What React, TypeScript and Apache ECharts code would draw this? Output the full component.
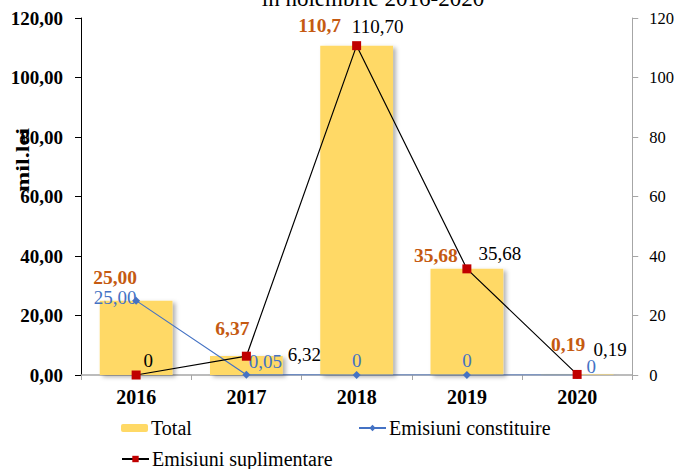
import React, { useEffect, useRef } from "react";
import * as echarts from "echarts";

const years = ["2016", "2017", "2018", "2019", "2020"];
const totalValues = [25.0, 6.37, 110.7, 35.68, 0.19];
const totalLabels = ["25,00", "6,37", "110,7", "35,68", "0,19"];
const constituireValues = [25.0, 0.05, 0, 0, 0];
const constituireLabels = ["25,00", "0,05", "0", "0", "0"];
const suplimentareValues = [0, 6.32, 110.7, 35.68, 0.19];
const suplimentareLabels = ["0", "6,32", "110,70", "35,68", "0,19"];

const FONT = "Liberation Serif, DejaVu Serif, serif";

export default function App() {
  const ref = useRef<HTMLDivElement>(null);
  useEffect(() => {
    document.body.style.margin = "0";
    const chart = echarts.init(ref.current!, null, { renderer: "svg" });
    const totalOffsets = [[-21, -8], [-14, -13], [-37, -5], [-31, 2], [-9, -15]];
    const constOffsets = [[-21, 15], [19, 5], [0, 4], [0, 4], [14, 10]];
    const supOffsets = [[12, 4], [58, 17], [21, 0], [33, 4], [33, -6]];
    const legendText = { fontFamily: FONT, fontSize: 20, color: "#000", padding: [0, 0, 0, -2] };
    chart.setOption({
      animation: false,
      textStyle: { fontFamily: FONT },
      grid: { left: 81, right: 43, top: 18, bottom: 94, containLabel: false },
      graphic: [
        {
          type: "text",
          style: {
            text: "în noiembrie 2016-2020",
            x: 373,
            y: -13,
            textAlign: "center",
            textVerticalAlign: "top",
            fontFamily: FONT,
            fontSize: 23,
            fill: "#000",
          },
        },
        {
          type: "text",
          x: 23,
          y: 160,
          rotation: Math.PI / 2,
          scaleX: 1.35,
          style: {
            text: "mil.lei",
            textAlign: "center",
            textVerticalAlign: "middle",
            fontFamily: FONT,
            fontWeight: "bold",
            fontSize: 18,
            fill: "#000",
          },
        },
      ],
      legend: [
        {
          data: ["Total"],
          left: 121,
          top: 418,
          padding: 0,
          itemWidth: 27,
          itemHeight: 8,
          textStyle: legendText,
        },
        {
          data: ["Emisiuni constituire"],
          left: 358,
          top: 418,
          padding: 0,
          itemWidth: 27,
          itemHeight: 8,
          textStyle: legendText,
        },
        {
          data: ["Emisiuni suplimentare"],
          left: 121,
          top: 449,
          padding: 0,
          itemWidth: 27,
          itemHeight: 8,
          textStyle: legendText,
        },
      ],
      xAxis: {
        type: "category",
        data: years,
        axisLine: { lineStyle: { color: "#a6a6a6", width: 1.5 } },
        axisTick: { show: true, alignWithLabel: false, length: 5, lineStyle: { color: "#a6a6a6" } },
        axisLabel: {
          fontFamily: FONT,
          fontWeight: "bold",
          fontSize: 20,
          color: "#000",
          margin: 12,
        },
      },
      yAxis: [
        {
          type: "value",
          min: 0,
          max: 120,
          interval: 20,
          axisLine: { show: true, lineStyle: { color: "#000" } },
          axisTick: { show: true, length: 6, lineStyle: { color: "#000" } },
          splitLine: { show: false },
          axisLabel: {
            fontFamily: FONT,
            fontWeight: "bold",
            fontSize: 19,
            color: "#000",
            margin: 18,
            formatter: (v: number) => v.toFixed(2).replace(".", ","),
          },
        },
        {
          type: "value",
          min: 0,
          max: 120,
          interval: 20,
          position: "right",
          axisLine: { show: true, lineStyle: { color: "#a6a6a6" } },
          axisTick: { show: true, length: 6, lineStyle: { color: "#a6a6a6" } },
          splitLine: { show: false },
          axisLabel: {
            fontFamily: FONT,
            fontSize: 16.5,
            color: "#000",
            margin: 17,
          },
        },
      ],
      series: [
        {
          name: "Total",
          type: "bar",
          barWidth: "66%",
          itemStyle: {
            color: "#FFD966",
            shadowColor: "rgba(0,0,0,0.3)",
            shadowBlur: 4,
            shadowOffsetX: 3,
            shadowOffsetY: 2,
          },
          data: totalValues.map((v, i) => ({
            value: v,
            label: {
              show: true,
              position: "top",
              offset: totalOffsets[i],
              formatter: totalLabels[i],
              fontFamily: FONT,
              fontWeight: "bold",
              fontSize: 19.5,
              color: "#C55A11",
            },
          })),
        },
        {
          name: "Emisiuni constituire",
          type: "line",
          yAxisIndex: 0,
          symbol: "diamond",
          symbolSize: 8,
          lineStyle: { color: "#4472C4", width: 1.2 },
          itemStyle: { color: "#4472C4" },
          z: 3,
          data: constituireValues.map((v, i) => ({
            value: v,
            label: {
              show: true,
              position: "top",
              offset: constOffsets[i],
              formatter: constituireLabels[i],
              fontFamily: FONT,
              fontSize: 19,
              color: "#4472C4",
            },
          })),
        },
        {
          name: "Emisiuni suplimentare",
          type: "line",
          yAxisIndex: 1,
          symbol: "rect",
          symbolSize: 9,
          lineStyle: { color: "#000", width: 1.2 },
          itemStyle: { color: "#C00000" },
          z: 4,
          data: suplimentareValues.map((v, i) => ({
            value: v,
            label: {
              show: true,
              position: "top",
              offset: supOffsets[i],
              formatter: suplimentareLabels[i],
              fontFamily: FONT,
              fontSize: 19,
              color: "#000",
            },
          })),
        },
      ],
    });
    return () => chart.dispose();
  }, []);
  return <div ref={ref} style={{ width: 677, height: 469 }} />;
}
